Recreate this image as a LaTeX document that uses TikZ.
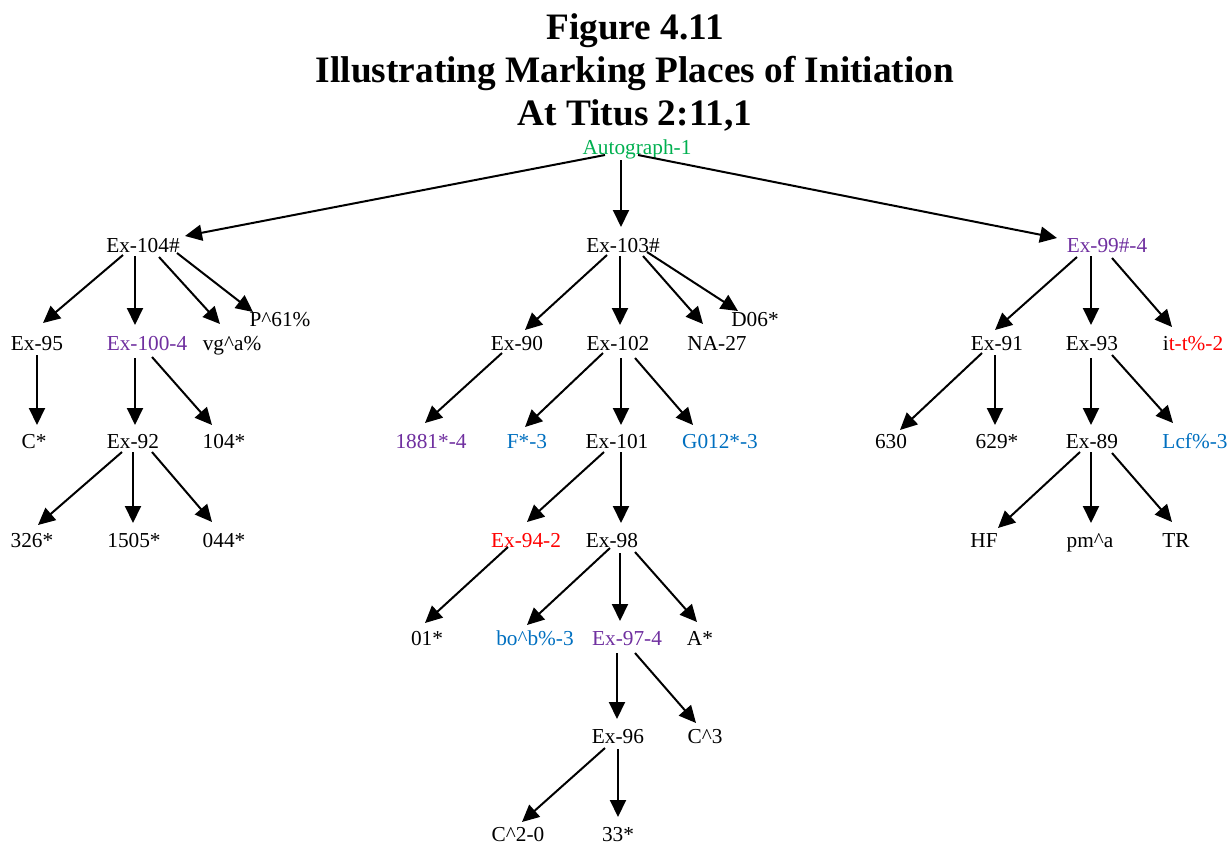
\documentclass[tikz,border=0pt]{standalone}
\usepackage{fontspec}
\setmainfont{Liberation Serif}
\usetikzlibrary{arrows.meta}
\definecolor{cgreen}{RGB}{0,176,80}
\definecolor{cpurple}{RGB}{112,48,160}
\definecolor{cred}{RGB}{255,0,0}
\definecolor{cblue}{RGB}{0,112,192}
\tikzset{
  lbl/.style={anchor=base, inner sep=0pt, font=\fontsize{21.3}{25}\selectfont},
  ttl/.style={anchor=base, inner sep=0pt, font=\fontsize{37.3}{43}\selectfont\bfseries},
  arr/.style={line width=2pt, -{Triangle[length=17pt,width=16pt]}},
}
\newcommand\gvedge[6]{\draw[arr] ([shift={(#2,#3)}]#1.base) -- ([shift={(#5,#6)}]#4.base);}
\newcommand\caret{\textasciicircum}
\begin{document}
\begin{tikzpicture}[x=1pt,y=-1pt]
\useasboundingbox[fill=white] (0,0) rectangle (1232,844);
% title
\node[ttl] (t1) at (635,39) {Figure 4.11};
\node[ttl] (t2) at (635,82) {Illustrating Marking Places of Initiation};
\node[ttl] (t3) at (635,125) {At Titus 2:11,1};
% nodes
\node[lbl, text=cgreen] (root) at (637,154) {Autograph-1};
\node[lbl] (n104) at (143,252) {Ex-104\#};
\node[lbl] (n103) at (623,252) {Ex-103\#};
\node[lbl, text=cpurple] (n99) at (1107,252) {Ex-99\#-4};
\node[lbl] (n95) at (37,350) {Ex-95};
\node[lbl, text=cpurple] (n100) at (147,350) {Ex-100-4};
\node[lbl] (vg) at (232,350) {vg\caret a\%};
\node[lbl] (p61) at (280,326) {P\caret 61\%};
\node[lbl] (n90) at (517,350) {Ex-90};
\node[lbl] (n102) at (618,350) {Ex-102};
\node[lbl] (na27) at (717,350) {NA-27};
\node[lbl] (d06) at (755,326) {D06*};
\node[lbl] (n91) at (997,350) {Ex-91};
\node[lbl] (n93) at (1092,350) {Ex-93};
\node[lbl] (itt) at (1193,350) {i\textcolor{cred}{t-t\%-2}};
\node[lbl] (cs) at (34,448) {C*};
\node[lbl] (n92) at (133,448) {Ex-92};
\node[lbl] (s104) at (224,448) {104*};
\node[lbl, text=cpurple] (s1881) at (431,448) {1881*-4};
\node[lbl, text=cblue] (f3) at (527,448) {F*-3};
\node[lbl] (n101) at (617,448) {Ex-101};
\node[lbl, text=cblue] (g012) at (720,448) {G012*-3};
\node[lbl] (s630) at (891,448) {630};
\node[lbl] (s629) at (997,448) {629*};
\node[lbl] (n89) at (1092,448) {Ex-89};
\node[lbl, text=cblue] (lcf) at (1195,448) {Lcf\%-3};
\node[lbl] (s326) at (32,547) {326*};
\node[lbl] (s1505) at (134,547) {1505*};
\node[lbl] (s044) at (224,547) {044*};
\node[lbl, text=cred] (n94) at (526,547) {Ex-94-2};
\node[lbl] (n98) at (612,547) {Ex-98};
\node[lbl] (hf) at (984,547) {HF};
\node[lbl] (pm) at (1090,547) {pm\caret a};
\node[lbl] (tr) at (1176,547) {TR};
\node[lbl] (s01) at (427,645) {01*};
\node[lbl, text=cblue] (bo) at (535,645) {bo\caret b\%-3};
\node[lbl, text=cpurple] (n97) at (627,645) {Ex-97-4};
\node[lbl] (as) at (700,645) {A*};
\node[lbl] (n96) at (618,743) {Ex-96};
\node[lbl] (c3) at (705,743) {C\caret 3};
\node[lbl] (c20) at (518,841) {C\caret 2-0};
\node[lbl] (s33) at (618,841) {33*};
% edges
\gvedge{root}{-32}{1}{n104}{42}{-16}
\gvedge{root}{-16}{6}{n103}{-2}{-25}
\gvedge{root}{1}{1}{n99}{-50}{-14}
\gvedge{n104}{-20}{3}{n95}{6}{-27}
\gvedge{n104}{-8}{4}{n100}{-12}{-25}
\gvedge{n104}{16}{5}{vg}{-12}{-26}
\gvedge{n104}{34}{1}{p61}{-27}{-14}
\gvedge{n95}{0}{5}{cs}{3}{-23}
\gvedge{n100}{-12}{8}{n92}{2}{-23}
\gvedge{n100}{5}{7}{s104}{-12}{-23}
\gvedge{n92}{-11}{4}{s326}{6}{-22}
\gvedge{n92}{0}{4}{s1505}{-1}{-24}
\gvedge{n92}{19}{4}{s044}{-12}{-25}
\gvedge{n103}{-16}{3}{n90}{8}{-20}
\gvedge{n103}{-3}{4}{n102}{2}{-25}
\gvedge{n103}{20}{4}{na27}{-14}{-26}
\gvedge{n103}{24}{0}{d06}{-17}{-15}
\gvedge{n99}{-30}{5}{n91}{-2}{-20}
\gvedge{n99}{-16}{4}{n93}{-1}{-25}
\gvedge{n99}{5}{6}{itt}{-21}{-23}
\gvedge{n90}{-15}{3}{s1881}{-6}{-25}
\gvedge{n102}{-15}{3}{f3}{-2}{-21}
\gvedge{n102}{3}{8}{n101}{4}{-23}
\gvedge{n102}{17}{8}{g012}{-27}{-23}
\gvedge{n101}{-13}{4}{n94}{1}{-25}
\gvedge{n101}{4}{4}{n98}{9}{-24}
\gvedge{n94}{-18}{0}{s01}{-2}{-22}
\gvedge{n98}{-2}{1}{bo}{-8}{-20}
\gvedge{n98}{8}{6}{n97}{-7}{-24}
\gvedge{n98}{23}{5}{as}{-3}{-23}
\gvedge{n97}{-10}{8}{n96}{-1}{-24}
\gvedge{n97}{8}{8}{c3}{-9}{-20}
\gvedge{n96}{-13}{5}{c20}{4}{-19}
\gvedge{n96}{0}{6}{s33}{0}{-24}
\gvedge{n91}{-15}{3}{s630}{9}{-18}
\gvedge{n91}{-2}{5}{s629}{-2}{-23}
\gvedge{n93}{-1}{8}{n89}{-1}{-23}
\gvedge{n93}{20}{5}{lcf}{-22}{-25}
\gvedge{n89}{-12}{4}{hf}{14}{-19}
\gvedge{n89}{-1}{4}{pm}{1}{-24}
\gvedge{n89}{20}{5}{tr}{-4}{-25}
\end{tikzpicture}
\end{document}
